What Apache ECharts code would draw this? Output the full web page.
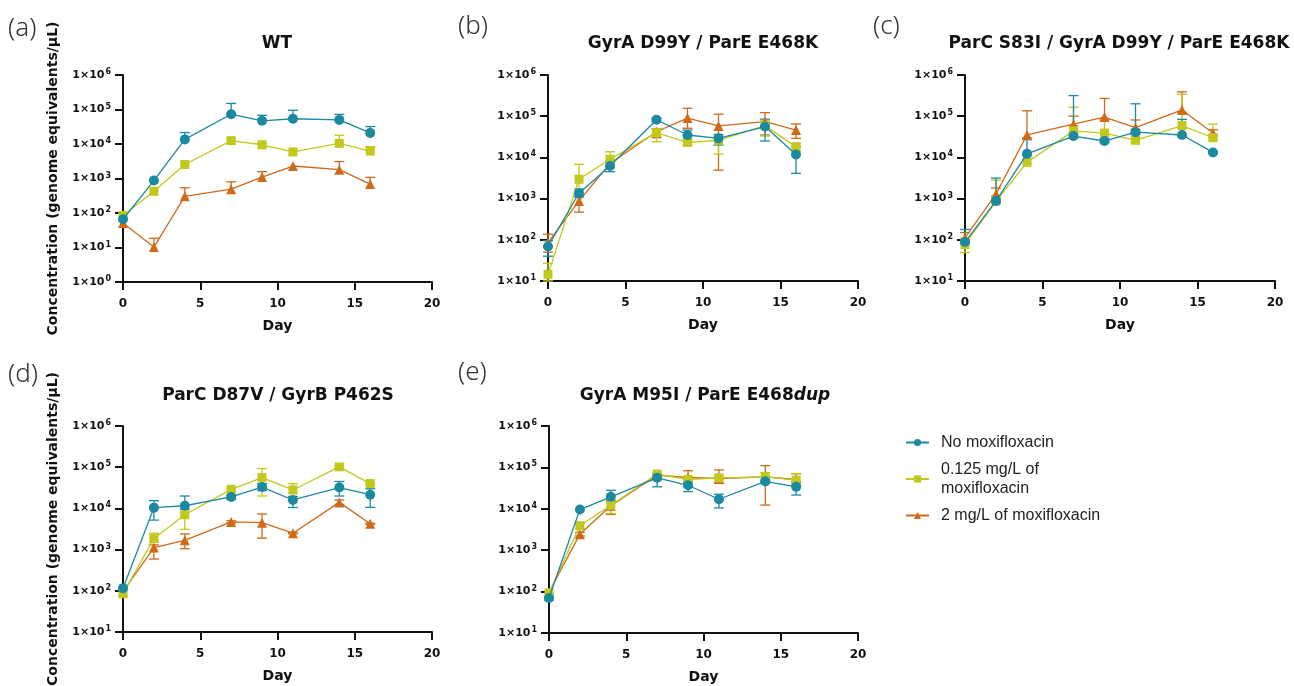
<!DOCTYPE html>
<html><head><meta charset="utf-8">
<script src="https://cdn.jsdelivr.net/npm/echarts@6/dist/echarts.min.js"></script>
<style>html,body{margin:0;padding:0;background:#fff}#c{width:1294px;height:686px}</style>
</head><body><div id="c"></div><script>
// ---- data ----
const days = [0, 2, 4, 7, 9, 11, 14, 16];
const seriesNames = ['No moxifloxacin', '0.125 mg/L of\nmoxifloxacin', '2 mg/L of moxifloxacin'];
const panelTitles = ['WT', 'GyrA D99Y / ParE E468K', 'ParC S83I / GyrA D99Y / ParE E468K', 'ParC D87V / GyrB P462S', 'GyrA M95I / ParE E468{i|dup}'];
const panelLabels = ['(a)', '(b)', '(c)', '(d)', '(e)'];
const xTicks = [0, 5, 10, 15, 20];

// (a) WT
const aNo = [66, 870, 13600, 73000, 47000, 54000, 50000, 21000];
const aNoHi = [66, 870, 21500, 150000, 68000, 95000, 72000, 32000];
const aNoLo = [66, 870, 13600, 73000, 47000, 54000, 50000, 21000];
const aLow = [85, 425, 2550, 12500, 9500, 5900, 10400, 6200];
const aLowHi = [85, 425, 2550, 15000, 10500, 5900, 18000, 8400];
const aLowLo = [85, 425, 2550, 12500, 9500, 5900, 10400, 6200];
const aHigh = [51, 10.3, 305, 490, 1100, 2300, 1800, 690];
const aHighHi = [51, 18.5, 540, 800, 1580, 2300, 3100, 1080];
const aHighLo = [51, 10.3, 305, 490, 1100, 2300, 1800, 690];

// (b) GyrA D99Y / ParE E468K
const bNo = [69, 1350, 6200, 82000, 35000, 29000, 56000, 11800];
const bNoHi = [95, 1700, 7900, 90000, 46000, 36000, 85000, 18000];
const bNoLo = [40, 1100, 4500, 75000, 25000, 20000, 25000, 4100];
const bLow = [14.5, 2950, 9000, 40000, 23000, 26000, 59000, 18000];
const bLowHi = [27, 6800, 13700, 46000, 27000, 33000, 77000, 22000];
const bLowLo = [10, 1600, 8000, 24000, 20000, 12000, 33000, 14000];
const bHigh = [85, 880, 7100, 42000, 90000, 58000, 74000, 46000];
const bHighHi = [137, 1100, 8500, 50000, 156000, 112000, 122000, 65000];
const bHighLo = [50, 470, 6000, 30000, 51000, 4900, 35000, 29000];

// (c) ParC S83I / GyrA D99Y / ParE E468K
const cNo = [88, 880, 12200, 33000, 25000, 41000, 35000, 13200];
const cNoHi = [178, 3150, 27000, 316000, 28000, 200000, 84000, 14000];
const cNoLo = [80, 800, 11000, 30000, 23000, 36000, 32000, 12500];
const cLow = [77, 860, 7600, 44000, 39000, 26000, 59000, 30000];
const cLowHi = [110, 2800, 9000, 165000, 80000, 30000, 340000, 64000];
const cLowLo = [49, 780, 7000, 40000, 35000, 24000, 52000, 27000];
const cHigh = [112, 1300, 35000, 64000, 95000, 53000, 142000, 39000];
const cHighHi = [150, 1800, 135000, 100000, 270000, 81000, 390000, 47000];
const cHighLo = [100, 1150, 30000, 58000, 85000, 48000, 125000, 35000];

// (d) ParC D87V / GyrB P462S
const dNo = [116, 10400, 11600, 19000, 33000, 16000, 32000, 21500];
const dNoHi = [116, 15400, 20000, 21000, 40000, 19500, 45000, 30000];
const dNoLo = [116, 5200, 9500, 17000, 27000, 10500, 20000, 10600];
const dLow = [85, 1850, 7000, 29000, 56000, 28000, 102000, 40000];
const dLowHi = [85, 2500, 8000, 31000, 93000, 40000, 108000, 43000];
const dLowLo = [85, 1500, 3100, 27000, 20000, 24000, 96000, 38000];
const dHigh = [96, 1120, 1680, 4700, 4500, 2500, 14000, 4250];
const dHighHi = [96, 1300, 2400, 5000, 7300, 2600, 16000, 4400];
const dHighLo = [96, 590, 1050, 4400, 1900, 2400, 12500, 4100];

// (e) GyrA M95I / ParE E468dup
const eNo = [70, 9600, 19500, 56000, 37000, 17000, 46000, 34000];
const eNoHi = [70, 9600, 28000, 66000, 44000, 22500, 50000, 45000];
const eNoLo = [62, 9600, 15000, 34000, 26000, 10500, 42000, 21500];
const eLow = [93, 3900, 12200, 69000, 51000, 56000, 59000, 49000];
const eLowHi = [95, 4500, 15000, 74000, 60000, 62000, 75000, 71000];
const eLowLo = [90, 3300, 7700, 60000, 45000, 50000, 40000, 40000];
const eHigh = [95, 2440, 11800, 65000, 57000, 54000, 59000, 51000];
const eHighHi = [95, 2700, 16000, 70000, 83000, 87000, 110000, 70000];
const eHighLo = [95, 2200, 7300, 60000, 50000, 41000, 12300, 45000];

const panels = [
  [[aNo, aNoLo, aNoHi], [aLow, aLowLo, aLowHi], [aHigh, aHighLo, aHighHi]],
  [[bNo, bNoLo, bNoHi], [bLow, bLowLo, bLowHi], [bHigh, bHighLo, bHighHi]],
  [[cNo, cNoLo, cNoHi], [cLow, cLowLo, cLowHi], [cHigh, cHighLo, cHighHi]],
  [[dNo, dNoLo, dNoHi], [dLow, dLowLo, dLowHi], [dHigh, dHighLo, dHighHi]],
  [[eNo, eNoLo, eNoHi], [eLow, eLowLo, eLowHi], [eHigh, eHighLo, eHighHi]]
];
const yMins = [1, 10, 10, 10, 10];
const yMax = 1e6;

// ---- layout / style ----
const colors = ['#1b8aa0', '#c2c81c', '#cf6a1a'];
const symbols = ['circle', 'rect', 'triangle'];
const symbolSizes = [10, 9, 10];
const grids = [
  {left: 123, top: 75, width: 309, height: 207, outerBoundsMode: 'none'},
  {left: 548, top: 75, width: 310, height: 206, outerBoundsMode: 'none'},
  {left: 965, top: 75, width: 310, height: 206, outerBoundsMode: 'none'},
  {left: 123, top: 426, width: 309, height: 206, outerBoundsMode: 'none'},
  {left: 549, top: 426, width: 309, height: 207, outerBoundsMode: 'none'}
];
const ARIAL = '"Liberation Sans", Arial, sans-serif';
const WIDE = '"DejaVu Sans", sans-serif';
const labelPos = [[8, 16], [458, 14], [873, 14], [8, 362], [458, 360]];
const titlePos = [[277, 35], [703, 35], [1119, 35], [278, 387], [705, 387]];

const xAxes = [], yAxes = [], series = [], titles = [], graphics = [];
grids.forEach((g, i) => {
  xAxes.push({
    gridIndex: i, type: 'value', min: 0, max: 20, interval: 5,
    name: 'Day', nameLocation: 'middle', nameGap: 37,
    nameTextStyle: {fontFamily: WIDE, fontWeight: 'bold', fontSize: 14, color: '#111'},
    axisLine: {show: true, onZero: false, lineStyle: {color: '#111', width: 2}},
    axisTick: {show: true, length: 8, lineStyle: {color: '#111', width: 2}},
    axisLabel: {fontFamily: WIDE, fontWeight: 'bold', fontSize: 12, color: '#111', margin: 16,
      customValues: xTicks},
    splitLine: {show: false}
  });
  const showName = (i === 0 || i === 3);
  yAxes.push({
    gridIndex: i, type: 'log', logBase: 10, min: yMins[i], max: yMax,
    splitNumber: i === 0 ? 6 : 5,
    name: showName ? 'Concentration (genome equivalents/μL)' : '',
    nameLocation: 'middle', nameGap: 63,
    nameTextStyle: {fontFamily: WIDE, fontWeight: 'bold', fontSize: 14, color: '#111'},
    axisLine: {show: true, lineStyle: {color: '#111', width: 2}},
    axisTick: {show: true, length: 8, lineStyle: {color: '#111', width: 2}},
    axisLabel: {
      margin: 12,
      formatter: v => '{b|1×10}{s|' + Math.round(Math.log10(v)) + '}',
      rich: {
        b: {fontFamily: WIDE, fontWeight: 'bold', fontSize: 11, color: '#111', lineHeight: 14},
        s: {fontFamily: WIDE, fontWeight: 'bold', fontSize: 8, color: '#111', verticalAlign: 'top', lineHeight: 14, padding: [0, 0, 5, 1]}
      }
    },
    splitLine: {show: false}
  });
  titles.push({
    text: panelTitles[i], left: titlePos[i][0], top: titlePos[i][1], textAlign: 'center', padding: 0,
    textStyle: {fontFamily: WIDE, fontWeight: 'bold', fontSize: 17, color: '#111',
      rich: {i: {fontFamily: WIDE, fontWeight: 'bold', fontStyle: 'italic', fontSize: 17, color: '#111'}}}
  });
  graphics.push({
    type: 'text', left: labelPos[i][0], top: labelPos[i][1],
    style: {text: panelLabels[i], font: '300 26px "Noto Sans", sans-serif', fill: '#333'}
  });
  // line series first (so legend uses line icon), then error bars
  [2, 1, 0].forEach(k => {
    const [mean] = panels[i][k];
    series.push({
      type: 'line', name: seriesNames[k], xAxisIndex: i, yAxisIndex: i,
      data: days.map((d, j) => [d, mean[j]]),
      symbol: symbols[k], symbolSize: symbolSizes[k], showSymbol: true,
      lineStyle: {color: colors[k], width: 1.3},
      itemStyle: {color: colors[k], borderWidth: 0},
      z: 3 + (2 - k) * 0.1, animation: false
    });
  });
  [2, 1, 0].forEach(k => {
    const [mean, lo, hi] = panels[i][k];
    series.push({
      type: 'custom', name: seriesNames[k], xAxisIndex: i, yAxisIndex: i,
      itemStyle: {color: colors[k]}, z: 2,
      data: days.map((d, j) => [d, mean[j], lo[j], hi[j]]),
      encode: {x: 0, y: [1, 2, 3]},
      renderItem: (params, api) => {
        const x = api.value(0), m = api.value(1), l = api.value(2), h = api.value(3);
        const pm = api.coord([x, m]), pl = api.coord([x, l]), ph = api.coord([x, h]);
        const st = {stroke: colors[k], lineWidth: 1.3, fill: null};
        const ch = [];
        if (ph[1] < pm[1] - 0.5 || pl[1] > pm[1] + 0.5) {
          ch.push({type: 'line', shape: {x1: pm[0], y1: ph[1], x2: pm[0], y2: pl[1]}, style: st});
        }
        if (ph[1] < pm[1] - 0.5) ch.push({type: 'line', shape: {x1: pm[0] - 5, y1: ph[1], x2: pm[0] + 5, y2: ph[1]}, style: st});
        if (pl[1] > pm[1] + 0.5) ch.push({type: 'line', shape: {x1: pm[0] - 5, y1: pl[1], x2: pm[0] + 5, y2: pl[1]}, style: st});
        return {type: 'group', children: ch};
      }
    });
  });
});

const chart = echarts.init(document.getElementById('c'), null, {renderer: 'canvas'});
chart.setOption({
  animation: false,
  backgroundColor: '#fff',
  title: titles,
  grid: grids,
  xAxis: xAxes,
  yAxis: yAxes,
  series: series,
  graphic: graphics,
  legend: {
    data: seriesNames, orient: 'vertical', left: 900, top: 428, itemGap: 8,
    itemWidth: 23, itemHeight: 9, selectedMode: false,
    textStyle: {fontFamily: ARIAL, fontSize: 16, color: '#222', lineHeight: 19, padding: [0, 0, 0, 7]}
  }
});
</script></body></html>
